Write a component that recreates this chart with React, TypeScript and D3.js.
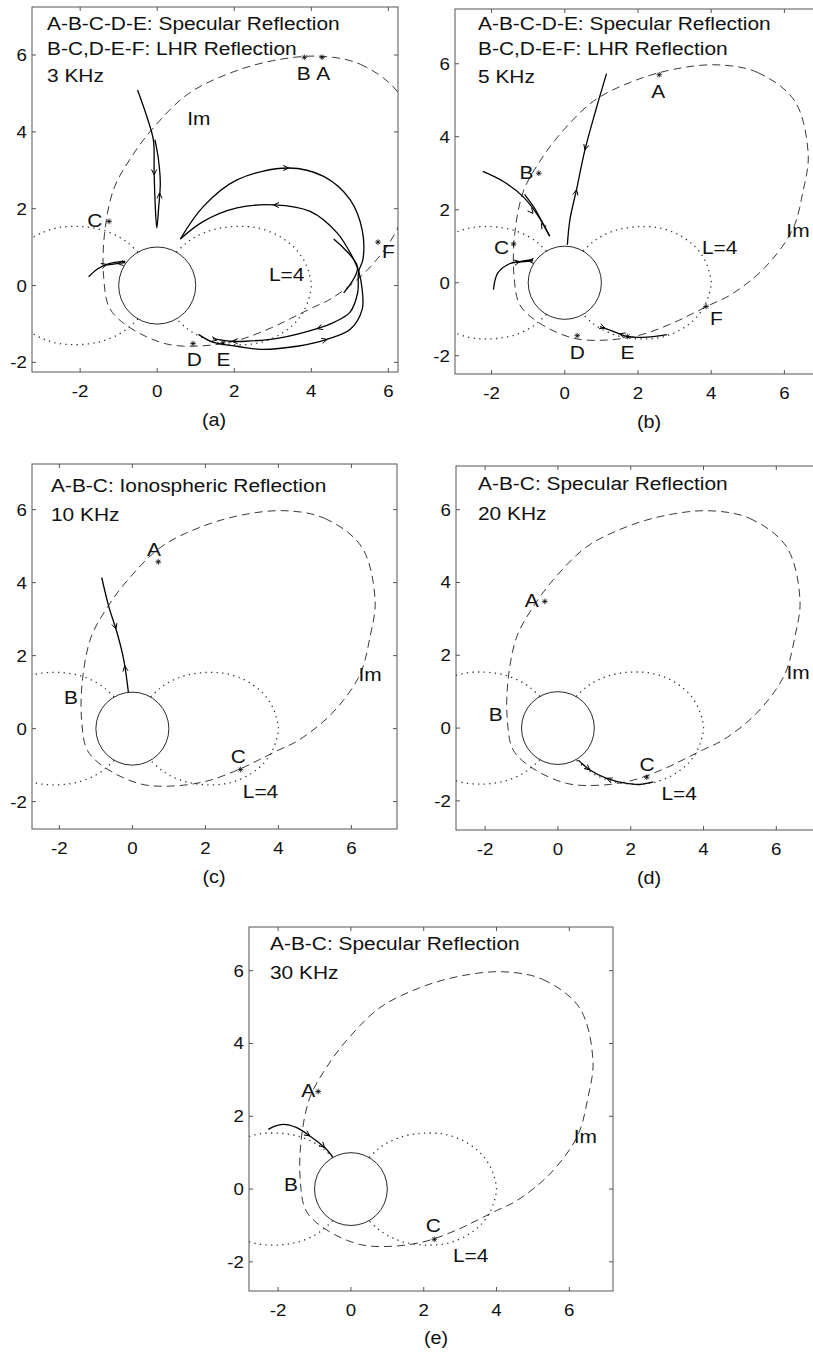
import React from "react";
import * as d3 from "d3";

type Pt = [number, number];

const FONT = "'Liberation Sans', Arial, Helvetica, sans-serif";

const xTicks = [-2, 0, 2, 4, 6];
const yTicks = [-2, 0, 2, 4, 6];

// Im boundary (same in every panel) (c) and (d)
const imBoundary: Pt[] = [
  [4.18, 5.97], [5.27, 5.76], [6.28, 4.98], [6.65, 3.52], [6.51, 2.51], [6.22, 1.45],
  [5.46, 0.41], [4.55, -0.32], [4.0, -0.59], [3.46, -0.86], [2.96, -1.1], [2.07, -1.43],
  [1.15, -1.57], [0.24, -1.52], [-0.7, -1.1], [-1.23, -0.6], [-1.39, 0.22], [-1.37, 1.32],
  [-1.13, 2.51], [-0.68, 3.33], [-0.13, 4.07], [0.79, 4.98], [1.89, 5.53], [2.99, 5.85],
];

// L=4 field line, dayside lobe and the two nightside branches
const lShellDay: Pt[] = [
  [0.5, 0.87], [0.75, 1.1], [1.0, 1.27], [1.4, 1.44], [1.8, 1.52], [2.2, 1.54], [2.6, 1.5],
  [3.0, 1.37], [3.3, 1.2], [3.55, 1.0], [3.75, 0.75], [3.88, 0.5], [3.96, 0.25], [4.0, 0],
  [3.96, -0.25], [3.88, -0.5], [3.75, -0.75], [3.55, -1.0], [3.3, -1.2], [3.0, -1.37],
  [2.6, -1.5], [2.2, -1.54], [1.8, -1.52], [1.4, -1.44], [1.0, -1.27], [0.75, -1.1], [0.5, -0.87],
];
const lShellNightN: Pt[] = [
  [-0.5, 0.87], [-0.75, 1.1], [-1.0, 1.27], [-1.4, 1.44], [-1.8, 1.52], [-2.2, 1.54],
  [-2.6, 1.5], [-3.0, 1.37], [-3.4, 1.15],
];
const lShellNightS: Pt[] = [
  [-0.5, -0.87], [-0.75, -1.1], [-1.0, -1.27], [-1.4, -1.44], [-1.8, -1.52], [-2.2, -1.54],
  [-2.6, -1.5], [-3.0, -1.37], [-3.4, -1.15],
];

// --- panel (a) 3 kHz
const raysA: Pt[][] = [
  [[-0.51, 5.09], [-0.27, 4.4], [-0.1, 3.79], [-0.08, 2.93], [-0.05, 2.06], [-0.01, 1.5],
   [0.04, 2.06], [0.08, 2.67], [0.03, 3.3], [-0.06, 3.8]],
  [[-1.78, 0.23], [-1.57, 0.42], [-1.31, 0.55], [-1.05, 0.61], [-0.83, 0.63]],
  [[-0.83, 0.6], [-1.05, 0.57], [-1.35, 0.53]],
  [[0.6, 1.21], [1.2, 2.06], [2.07, 2.75], [3.41, 3.06], [4.32, 2.84], [5.01, 2.23], [5.32, 1.45],
   [5.34, 0.68], [5.23, 0.37], [5.2, -0.2], [5.0, -0.7], [4.6, -0.95], [4.15, -1.12],
   [3.19, -1.36], [2.3, -1.45], [1.9, -1.45], [1.45, -1.38]],
  [[0.6, 1.21], [1.2, 1.67], [2.07, 2.02], [3.02, 2.1], [3.97, 1.93], [4.67, 1.37], [5.1, 0.68],
   [5.23, 0.37], [5.32, -0.1], [5.32, -0.62], [5.01, -1.14], [4.41, -1.4], [3.63, -1.58],
   [2.68, -1.66], [2.07, -1.58], [1.46, -1.48], [1.07, -1.27]],
  [[4.58, 1.21], [5.2, 0.47], [4.84, -0.19]],
];
const arrowsA: [Pt, Pt][] = [
  [[-0.08, 2.88], [0, -1]], [[0.06, 2.41], [0, 1]],
  [[-1.31, 0.55], [1, 0.3]], [[-1.02, 0.57], [-1, -0.1]],
  [[3.41, 3.06], [1, 0]], [[3.02, 2.1], [-1, 0.05]],
  [[4.15, -1.12], [-1, -0.3]], [[4.41, -1.4], [1, 0.3]],
  [[1.55, -1.42], [1, -0.2]], [[1.95, -1.45], [-1, 0]],
];
const starsA: Pt[] = [[3.82, 5.94], [4.28, 5.94], [-1.25, 1.67], [5.73, 1.13], [0.93, -1.51], [1.71, -1.49]];
const labelsA: [string, number, number][] = [
  ["B", 3.8, 5.52], ["A", 4.31, 5.52], ["C", -1.62, 1.71], ["F", 6.0, 0.89],
  ["D", 0.96, -1.92], ["E", 1.72, -1.92], ["Im", 1.08, 4.36], ["L=4", 3.36, 0.29],
];

// --- panel (b) 5 kHz
const raysB: Pt[][] = [
  [[1.14, 5.73], [0.85, 4.74], [0.55, 3.64], [0.32, 2.55], [0.14, 1.73], [0.07, 1.04]],
  [[-2.24, 3.05], [-1.69, 2.78], [-1.14, 2.36], [-0.78, 1.91], [-0.55, 1.54], [-0.41, 1.27]],
  [[-1.1, 2.42], [-0.8, 2.0], [-0.6, 1.62], [-0.43, 1.3]],
  [[-1.95, -0.19], [-1.83, 0.27], [-1.51, 0.52], [-1.23, 0.58], [-0.87, 0.63]],
  [[-0.87, 0.6], [-1.1, 0.58], [-1.35, 0.56]],
  [[0.96, -1.2], [1.32, -1.33], [1.69, -1.47], [2.24, -1.49], [2.79, -1.42]],
];
const arrowsB: [Pt, Pt][] = [
  [[0.55, 3.64], [-0.27, -1]], [[0.32, 2.55], [0.2, 1]],
  [[-0.87, 1.9], [0.8, -1]], [[-0.64, 1.63], [-0.6, 1]],
  [[-1.23, 0.58], [1, 0.2]], [[-1.0, 0.6], [-1, 0]],
  [[1.1, -1.24], [1, -0.35]], [[1.5, -1.4], [-1, 0.3]],
];
const starsB: Pt[] = [[2.58, 5.7], [-0.71, 3.0], [-1.4, 1.06], [0.34, -1.45], [1.72, -1.47], [3.86, -0.65]];
const labelsB: [string, number, number][] = [
  ["A", 2.55, 5.25], ["B", -1.05, 3.04], ["C", -1.73, 0.99], ["D", 0.34, -1.9],
  ["E", 1.71, -1.9], ["F", 4.14, -0.96], ["Im", 6.37, 1.45], ["L=4", 4.23, 0.99],
];

// --- panel (c) 10 kHz
const raysC: Pt[][] = [
  [[-0.84, 4.14], [-0.64, 3.32], [-0.45, 2.73], [-0.27, 2.05], [-0.2, 1.68], [-0.11, 1.0]],
];
const arrowsC: [Pt, Pt][] = [[[-0.45, 2.73], [0.3, -1]], [[-0.21, 1.72], [-0.15, 1]]];
const starsC: Pt[] = [[0.71, 4.57], [2.96, -1.12]];
const labelsC: [string, number, number][] = [
  ["A", 0.59, 4.92], ["B", -1.68, 0.88], ["C", 2.9, -0.76], ["Im", 6.51, 1.5], ["L=4", 3.51, -1.7],
];

// --- panel (d) 20 kHz
const raysD: Pt[][] = [
  [[0.56, -0.88], [0.88, -1.15], [1.34, -1.38], [1.89, -1.52], [2.25, -1.55], [2.62, -1.48]],
];
const arrowsD: [Pt, Pt][] = [[[0.88, -1.15], [1, -0.8]], [[1.34, -1.38], [-1, 0.4]]];
const starsD: Pt[] = [[-0.36, 3.48], [2.44, -1.35]];
const labelsD: [string, number, number][] = [
  ["A", -0.72, 3.52], ["B", -1.71, 0.4], ["C", 2.45, -1.0], ["Im", 6.6, 1.55], ["L=4", 3.33, -1.79],
];

// --- panel (e) 30 kHz
const raysE: Pt[][] = [
  [[-2.27, 1.64], [-2.09, 1.73], [-1.86, 1.78], [-1.49, 1.69], [-1.13, 1.46], [-0.72, 1.14], [-0.5, 0.88]],
];
const arrowsE: [Pt, Pt][] = [[[-1.13, 1.46], [1, -0.7]], [[-0.72, 1.14], [1, -1]]];
const starsE: Pt[] = [[-0.9, 2.68], [2.29, -1.38]];
const labelsE: [string, number, number][] = [
  ["A", -1.17, 2.72], ["B", -1.65, 0.13], ["C", 2.26, -1.0], ["Im", 6.44, 1.46], ["L=4", 3.29, -1.82],
];

const panels = [
  {
    id: "a", left: 32, top: 7, w: 366, h: 365, xDom: [-3.25, 6.25], yDom: [-2.25, 7.25],
    header: ["A-B-C-D-E: Specular Reflection", "B-C,D-E-F: LHR Reflection", "3 KHz"],
    hx: 15, hy: [23, 48, 75], cap: [214, 426],
    rays: raysA, arrows: arrowsA, stars: starsA, labels: labelsA,
  },
  {
    id: "b", left: 455, top: 9, w: 366, h: 365, xDom: [-3, 7], yDom: [-2.5, 7.5],
    header: ["A-B-C-D-E: Specular Reflection", "B-C,D-E-F: LHR Reflection", "5 KHz"],
    hx: 23, hy: [21, 46, 74], cap: [649, 428],
    rays: raysB, arrows: arrowsB, stars: starsB, labels: labelsB,
  },
  {
    id: "c", left: 32, top: 464, w: 365, h: 365, xDom: [-2.75, 7.25], yDom: [-2.75, 7.25],
    header: ["A-B-C: Ionospheric Reflection", "10 KHz"],
    hx: 19, hy: [28, 57], cap: [214, 883],
    rays: raysC, arrows: arrowsC, stars: starsC, labels: labelsC,
  },
  {
    id: "d", left: 456, top: 466, w: 364, h: 364, xDom: [-2.8, 7.2], yDom: [-2.8, 7.2],
    header: ["A-B-C: Specular Reflection", "20 KHz"],
    hx: 22, hy: [24, 54], cap: [649, 884],
    rays: raysD, arrows: arrowsD, stars: starsD, labels: labelsD,
  },
  {
    id: "e", left: 249, top: 927, w: 364, h: 364, xDom: [-2.8, 7.2], yDom: [-2.8, 7.2],
    header: ["A-B-C: Specular Reflection", "30 KHz"],
    hx: 21, hy: [23, 52], cap: [436, 1344],
    rays: raysE, arrows: arrowsE, stars: starsE, labels: labelsE,
  },
];

const Txt = ({ x, y, size, anchor = "start", children }: any) => (
  <text
    transform={`translate(${x},${y}) scale(1.1,1)`}
    fontSize={size}
    fontFamily={FONT}
    textAnchor={anchor}
    fill="#111"
  >
    {children}
  </text>
);

function Panel({ p }: { p: any }) {
  const x = d3.scaleLinear().domain(p.xDom).range([p.left, p.left + p.w]);
  const y = d3.scaleLinear().domain(p.yDom).range([p.top + p.h, p.top]);
  const smooth = d3.line<Pt>().x(d => x(d[0])).y(d => y(d[1])).curve(d3.curveCatmullRom.alpha(0.5));
  const closed = d3.line<Pt>().x(d => x(d[0])).y(d => y(d[1])).curve(d3.curveCatmullRomClosed.alpha(0.5));
  const right = p.left + p.w;
  const bottom = p.top + p.h;
  const clipId = `clip-${p.id}`;

  const arrowPath = ([pt, dir]: [Pt, Pt]) => {
    const tx = x(pt[0]), ty = y(pt[1]);
    const len = Math.hypot(dir[0], dir[1]);
    const ux = dir[0] / len, uy = -dir[1] / len;
    const L = 6, a = 0.45;
    const c = Math.cos(a), s = Math.sin(a);
    const b1 = [tx - L * (ux * c - uy * s), ty - L * (ux * s + uy * c)];
    const b2 = [tx - L * (ux * c + uy * s), ty - L * (-ux * s + uy * c)];
    return `M${b1[0]},${b1[1]}L${tx},${ty}L${b2[0]},${b2[1]}`;
  };

  const starPath = (pt: Pt) => {
    const cx = x(pt[0]), cy = y(pt[1]), r = 2.8, q = 2;
    return `M${cx},${cy - r}V${cy + r}M${cx - r},${cy}H${cx + r}` +
      `M${cx - q},${cy - q}L${cx + q},${cy + q}M${cx - q},${cy + q}L${cx + q},${cy - q}`;
  };

  return (
    <g>
      <defs>
        <clipPath id={clipId}>
          <rect x={p.left} y={p.top} width={p.w} height={p.h} />
        </clipPath>
      </defs>
      <g clipPath={`url(#${clipId})`} fill="none">
        <path d={smooth(lShellDay) ?? ""} stroke="#333" strokeWidth={1.3} strokeDasharray="1.3,4.3" />
        <path d={smooth(lShellNightN) ?? ""} stroke="#333" strokeWidth={1.3} strokeDasharray="1.3,4.3" />
        <path d={smooth(lShellNightS) ?? ""} stroke="#333" strokeWidth={1.3} strokeDasharray="1.3,4.3" />
        <path d={closed(imBoundary) ?? ""} stroke="#222" strokeWidth={0.9} strokeDasharray="8,5" />
        <circle cx={x(0)} cy={y(0)} r={x(1) - x(0)} stroke="#111" strokeWidth={0.9} fill="#fff" />
        {p.rays.map((r: Pt[], i: number) => (
          <path key={i} d={smooth(r) ?? ""} stroke="#000" strokeWidth={1.3} />
        ))}
        {p.arrows.map((a: [Pt, Pt], i: number) => (
          <path key={i} d={arrowPath(a)} stroke="#000" strokeWidth={1} />
        ))}
        {p.stars.map((s: Pt, i: number) => (
          <path key={i} d={starPath(s)} stroke="#000" strokeWidth={0.8} />
        ))}
      </g>
      <rect x={p.left} y={p.top} width={p.w} height={p.h} fill="none" stroke="#555" strokeWidth={1} />
      {xTicks.map(t => (
        <g key={`x${t}`} stroke="#555">
          <line x1={x(t)} x2={x(t)} y1={bottom} y2={bottom - 4} />
          <line x1={x(t)} x2={x(t)} y1={p.top} y2={p.top + 4} />
        </g>
      ))}
      {yTicks.map(t => (
        <g key={`y${t}`} stroke="#555">
          <line x1={p.left} x2={p.left + 4} y1={y(t)} y2={y(t)} />
          <line x1={right} x2={right - 4} y1={y(t)} y2={y(t)} />
        </g>
      ))}
      {xTicks.map(t => (
        <Txt key={`xl${t}`} x={x(t)} y={bottom + 25} size={17} anchor="middle">{t}</Txt>
      ))}
      {yTicks.map(t => (
        <Txt key={`yl${t}`} x={p.left - 5} y={y(t) + 6} size={17} anchor="end">{t}</Txt>
      ))}
      {p.header.map((h: string, i: number) => (
        <Txt key={`h${i}`} x={p.left + p.hx} y={p.top + p.hy[i]} size={19}>{h}</Txt>
      ))}
      {p.labels.map(([s, lx, ly]: [string, number, number], i: number) => (
        <Txt key={`l${i}`} x={x(lx)} y={y(ly) + 7} size={19} anchor="middle">{s}</Txt>
      ))}
      <Txt x={p.cap[0]} y={p.cap[1]} size={18} anchor="middle">{`(${p.id})`}</Txt>
    </g>
  );
}

export default function App() {
  return (
    <svg
      width={813}
      height={1354}
      style={{ position: "absolute", left: 0, top: 0, background: "#fff" }}
    >
      {panels.map(p => (
        <Panel key={p.id} p={p} />
      ))}
    </svg>
  );
}
